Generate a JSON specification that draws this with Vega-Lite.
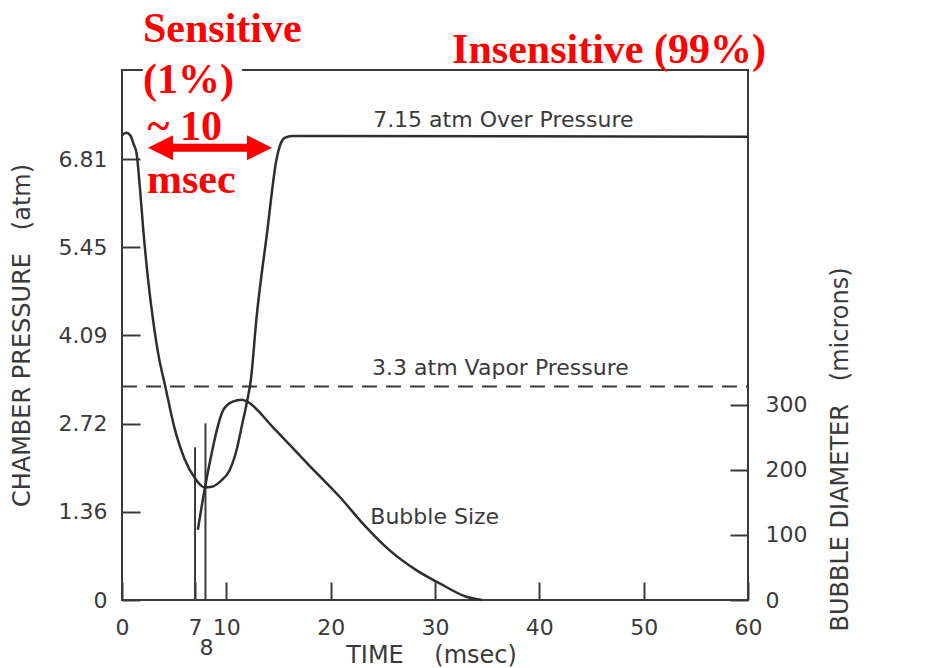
{
  "$schema": "https://vega.github.io/schema/vega-lite/v6.json",
  "width": 626,
  "height": 530,
  "autosize": {"type": "none"},
  "padding": {"left": 122, "top": 70, "right": 192, "bottom": 68},
  "background": "white",
  "config": {
    "view": {"stroke": "#3a3a3a", "strokeWidth": 2},
    "axis": {
      "domain": false,
      "grid": false,
      "labelFont": "DejaVu Sans",
      "labelFontSize": 22,
      "labelColor": "#3a3a3a",
      "titleFont": "DejaVu Sans",
      "titleFontSize": 24,
      "titleFontWeight": "normal",
      "titleColor": "#3a3a3a",
      "tickColor": "#3a3a3a",
      "tickWidth": 2,
      "tickSize": -18,
      "labelOverlap": false,
      "labelFlush": false,
      "labelBound": false
    }
  },
  "datasets": {
    "pressure": [
      {"t": 0, "p": 7.18}, {"t": 0.4, "p": 7.22}, {"t": 0.8, "p": 7.18}, {"t": 1.1, "p": 7.05},
      {"t": 1.4, "p": 6.9}, {"t": 1.7, "p": 6.4}, {"t": 2.05, "p": 5.7}, {"t": 2.5, "p": 4.95},
      {"t": 3.0, "p": 4.3}, {"t": 3.5, "p": 3.78}, {"t": 4.15, "p": 3.3}, {"t": 5.0, "p": 2.68},
      {"t": 6.0, "p": 2.18}, {"t": 7.0, "p": 1.88}, {"t": 7.9, "p": 1.74}, {"t": 8.6, "p": 1.75},
      {"t": 9.4, "p": 1.83}, {"t": 10.3, "p": 2.0}, {"t": 11.0, "p": 2.33}, {"t": 11.5, "p": 2.7},
      {"t": 12.0, "p": 3.08}, {"t": 12.35, "p": 3.4}, {"t": 12.9, "p": 4.37}, {"t": 13.9, "p": 5.67},
      {"t": 14.8, "p": 6.8}, {"t": 15.2, "p": 7.05}, {"t": 15.6, "p": 7.14}, {"t": 16.3, "p": 7.17},
      {"t": 60, "p": 7.16}
    ],
    "vapor": [{"t": 0, "p": 3.3}, {"t": 60, "p": 3.3}],
    "marks78": [{"t": 7, "p": 2.36}, {"t": 8, "p": 2.73}],
    "bubble": [
      {"t": 7.27, "d": 108}, {"t": 7.94, "d": 172}, {"t": 8.6, "d": 226}, {"t": 9.1, "d": 262},
      {"t": 9.7, "d": 292}, {"t": 10.6, "d": 305}, {"t": 11.5, "d": 308}, {"t": 12.0, "d": 305},
      {"t": 14.45, "d": 266}, {"t": 17.7, "d": 211}, {"t": 20.9, "d": 158}, {"t": 23.4, "d": 112},
      {"t": 25.6, "d": 77}, {"t": 28.2, "d": 46}, {"t": 30.4, "d": 26}, {"t": 33.0, "d": 5},
      {"t": 34.5, "d": 0}
    ],
    "curveLabels": [
      {"t": 24.07, "p": 7.42, "label": "7.15 atm Over Pressure"},
      {"t": 23.97, "p": 3.59, "label": "3.3 atm Vapor Pressure"},
      {"t": 23.8, "p": 1.275, "label": "Bubble Size"}
    ],
    "tick8": [{"t": 8.1, "p": -0.74, "label": "8"}],
    "whiteBox": [{"t": 2.0, "t2": 11.5, "p": 7.5, "p2": 8.3}],
    "redText": [
      {"t": 2.01, "p": 8.62, "label": "Sensitive"},
      {"t": 2.01, "p": 7.84, "label": "(1%)"},
      {"t": 2.45, "p": 7.11, "label": "~ 10"},
      {"t": 2.4, "p": 6.29, "label": "msec"},
      {"t": 31.64, "p": 8.3, "label": "Insensitive (99%)"}
    ],
    "arrowShaft": [{"t": 3.6, "t2": 13.3, "p": 6.99}],
    "arrowLeft": [{"t": 3.69, "p": 6.99}],
    "arrowRight": [{"t": 13.18, "p": 6.99}]
  },
  "encoding": {
    "x": {
      "field": "t",
      "type": "quantitative",
      "scale": {"domain": [0, 60], "nice": false, "zero": false},
      "axis": {
        "values": [0, 7, 10, 20, 30, 40, 50, 60],
        "labelPadding": 35,
        "title": "TIME\u00a0\u00a0\u00a0\u00a0(msec)",
        "titleX": 309,
        "titleY": 55,
        "titleBaseline": "middle",
        "titleAlign": "center"
      }
    }
  },
  "layer": [
    {
      "encoding": {
        "y": {
          "field": "p",
          "type": "quantitative",
          "scale": {"domain": [0, 8.19], "nice": false, "zero": false},
          "axis": {
            "values": [0, 1.36, 2.72, 4.09, 5.45, 6.81],
            "labelExpr": "datum.value == 0 ? '0' : format(datum.value, '.2f')",
            "labelPadding": 33,
            "title": "CHAMBER PRESSURE\u00a0\u00a0\u00a0(atm)",
            "titleAngle": -90,
            "titleX": -100,
            "titleY": 265,
            "titleBaseline": "middle",
            "titleAlign": "center"
          }
        }
      },
      "layer": [
        {
          "data": {"name": "whiteBox"},
          "mark": {"type": "rect", "color": "white"},
          "encoding": {"x2": {"field": "t2"}, "y2": {"field": "p2"}}
        },
        {
          "data": {"name": "vapor"},
          "mark": {"type": "line", "stroke": "#3a3a3a", "strokeWidth": 2, "strokeDash": [15, 9]}
        },
        {
          "data": {"name": "marks78"},
          "mark": {"type": "rule", "stroke": "#3a3a3a", "strokeWidth": 2},
          "encoding": {"y2": {"datum": 0}}
        },
        {
          "data": {"name": "pressure"},
          "mark": {"type": "line", "stroke": "#2e2e2e", "strokeWidth": 2.5, "interpolate": "monotone"}
        },
        {
          "data": {"name": "curveLabels"},
          "mark": {"type": "text", "font": "DejaVu Sans", "fontSize": 22, "color": "#3a3a3a", "align": "left", "baseline": "middle"},
          "encoding": {"text": {"field": "label"}}
        },
        {
          "data": {"name": "tick8"},
          "mark": {"type": "text", "font": "DejaVu Sans", "fontSize": 22, "color": "#3a3a3a", "align": "center", "baseline": "middle"},
          "encoding": {"text": {"field": "label"}}
        },
        {
          "data": {"name": "redText"},
          "mark": {"type": "text", "font": "Liberation Serif", "fontWeight": "bold", "fontSize": 42, "color": "#ff0000", "align": "left", "baseline": "alphabetic"},
          "encoding": {"text": {"field": "label"}}
        },
        {
          "data": {"name": "arrowShaft"},
          "mark": {"type": "rule", "stroke": "#ff0000", "strokeWidth": 8},
          "encoding": {"x2": {"field": "t2"}}
        },
        {
          "data": {"name": "arrowLeft"},
          "mark": {"type": "point", "shape": "M-1,0L1,-1L1,1Z", "filled": true, "size": 625, "color": "#ff0000", "opacity": 1}
        },
        {
          "data": {"name": "arrowRight"},
          "mark": {"type": "point", "shape": "M1,0L-1,-1L-1,1Z", "filled": true, "size": 625, "color": "#ff0000", "opacity": 1}
        }
      ]
    },
    {
      "data": {"name": "bubble"},
      "mark": {"type": "line", "stroke": "#2e2e2e", "strokeWidth": 2.5, "interpolate": "monotone"},
      "encoding": {
        "y": {
          "field": "d",
          "type": "quantitative",
          "scale": {"domain": [0, 815], "nice": false, "zero": false},
          "axis": {
            "orient": "right",
            "values": [0, 100, 200, 300],
            "labelPadding": 35,
            "title": "BUBBLE DIAMETER\u00a0\u00a0\u00a0(microns)",
            "titleAngle": -90,
            "titleX": 92,
            "titleY": 379,
            "titleBaseline": "middle",
            "titleAlign": "center"
          }
        }
      }
    }
  ],
  "resolve": {"scale": {"y": "independent"}}
}
